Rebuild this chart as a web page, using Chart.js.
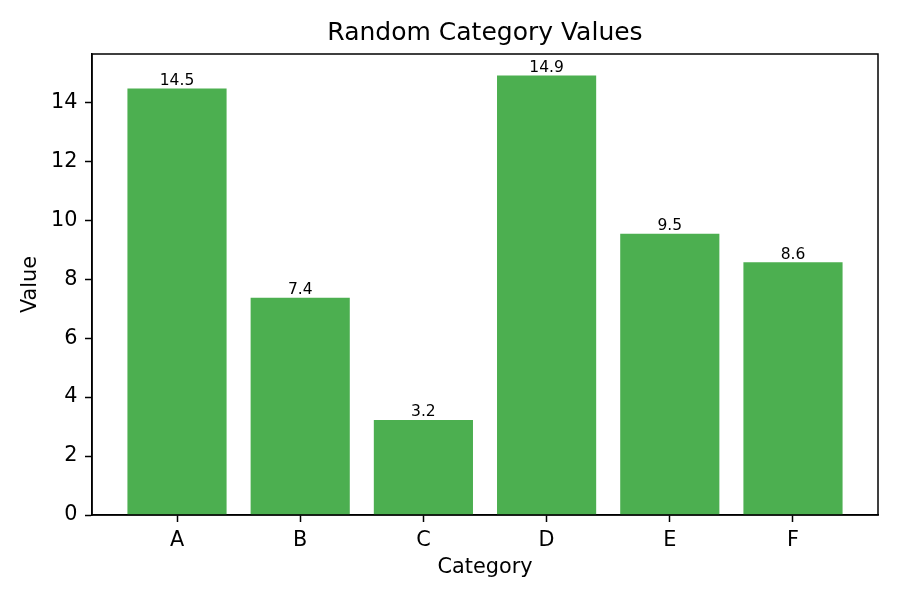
<!DOCTYPE html>
<html lang="en">
<head>
  <meta charset="UTF-8" />
  <title>Random Category Values</title>
  <script src="https://cdn.jsdelivr.net/npm/chart.js"></script>
  <style>
    body { margin: 0; background: #fff; }
    #wrap { width: 900px; height: 600px; }
  </style>
</head>
<body>
<div id="wrap"><canvas id="barChart" width="900" height="600"></canvas></div>

<script>
  // data
  const categories = ['A', 'B', 'C', 'D', 'E', 'F'];
  const values = [14.46, 7.36, 3.21, 14.90, 9.53, 8.56];
  const yTicks = [0, 2, 4, 6, 8, 10, 12, 14];
  const chartTitle = 'Random Category Values';

  const FONT = 'DejaVu Sans';
  const barColor = '#4CAF50';

  // bars sit on a linear x axis so the side margins match the original
  const points = values.map((v, i) => ({ x: i, y: v }));

  // value labels above each bar
  const barLabels = {
    id: 'barLabels',
    afterDatasetsDraw(chart) {
      const ctx = chart.ctx;
      const meta = chart.getDatasetMeta(0);
      ctx.save();
      ctx.font = '15.5px "' + FONT + '"';
      ctx.fillStyle = '#000';
      ctx.textAlign = 'center';
      ctx.textBaseline = 'alphabetic';
      meta.data.forEach((bar, i) => {
        ctx.fillText(values[i].toFixed(1), bar.x, bar.y - 4);
      });
      ctx.restore();
    }
  };

  // box round the plot area + title centred over the plot (like matplotlib)
  const frame = {
    id: 'frame',
    afterDraw(chart) {
      const { ctx, chartArea: a } = chart;
      ctx.save();
      ctx.strokeStyle = '#000';
      ctx.lineWidth = 1.5;
      ctx.strokeRect(a.left, a.top, a.right - a.left, a.bottom - a.top);
      ctx.font = '25px "' + FONT + '"';
      ctx.fillStyle = '#000';
      ctx.textAlign = 'center';
      ctx.textBaseline = 'middle';
      ctx.fillText(chartTitle, (a.left + a.right) / 2, a.top - 20.5);
      ctx.restore();
    }
  };

  new Chart(document.getElementById('barChart'), {
    type: 'bar',
    data: {
      datasets: [{
        data: points,
        backgroundColor: barColor,
        borderWidth: 0,
        barThickness: 98.5
      }]
    },
    options: {
      responsive: false,
      animation: false,
      layout: { padding: { left: 0, right: 22, top: 54, bottom: 0 } },
      plugins: {
        legend: { display: false },
        tooltip: { enabled: false },
        title: { display: false }
      },
      scales: {
        x: {
          type: 'linear',
          min: -0.69,
          max: 5.69,
          offset: false,
          afterFit(scale) { scale.height = 85; },
          ticks: {
            stepSize: 1,
            includeBounds: false,
            autoSkip: false,
            maxRotation: 0,
            padding: 6,
            color: '#000',
            font: { family: FONT, size: 20.8 },
            callback: v => categories[v] ?? ''
          },
          grid: { offset: false, drawOnChartArea: false, drawTicks: true, tickLength: 7, tickWidth: 1.5, color: '#000' },
          border: { display: true, color: '#000', width: 1.5 },
          title: {
            display: true,
            text: 'Category',
            color: '#000',
            font: { family: FONT, size: 20.8 },
            padding: { top: 0, bottom: 19.5 }
          }
        },
        y: {
          min: 0,
          max: 15.64,
          afterFit(scale) { scale.width = 92; },
          afterBuildTicks(scale) { scale.ticks = yTicks.map(v => ({ value: v })); },
          ticks: {
            padding: 7.5,
            color: '#000',
            font: { family: FONT, size: 20.8 }
          },
          grid: { drawOnChartArea: false, drawTicks: true, tickLength: 7, tickWidth: 1.5, color: '#000' },
          border: { display: true, color: '#000', width: 1.5 },
          title: {
            display: true,
            text: 'Value',
            color: '#000',
            font: { family: FONT, size: 20.8 },
            padding: { top: 18.5, bottom: 0 }
          }
        }
      }
    },
    plugins: [barLabels, frame]
  });
</script>
</body>
</html>
